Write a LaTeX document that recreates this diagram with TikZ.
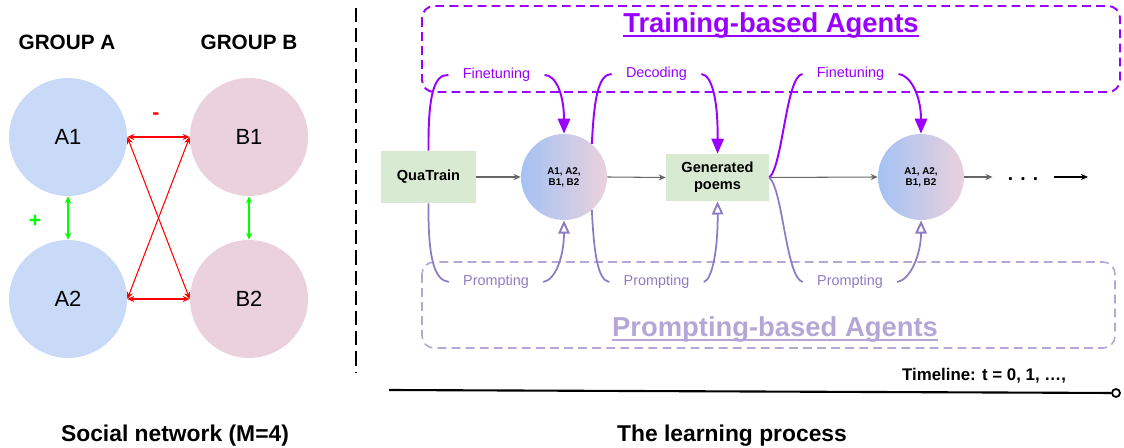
\documentclass[tikz,border=0pt]{standalone}
\usepackage{fontspec}
\setmainfont{Liberation Sans}
\usetikzlibrary{arrows.meta}

\definecolor{grpblue}{HTML}{C9DAF8}
\definecolor{grppink}{HTML}{EAD1DC}
\definecolor{agblue}{HTML}{A4C2F4}
\definecolor{agpink}{HTML}{EAD1DC}
\definecolor{datagreen}{HTML}{D9EAD3}
\definecolor{trainpurple}{HTML}{9900FF}
\definecolor{promptline}{HTML}{8E7CC3}
\definecolor{promptbox}{HTML}{B4A7D6}
\definecolor{flowgray}{HTML}{666666}
\definecolor{plusgreen}{HTML}{00FF00}

\begin{document}
\begin{tikzpicture}[x=0.02cm,y=-0.02cm,
  member/.style={circle,minimum size=2.36cm,inner sep=0pt,font=\fontsize{12.5}{14}\selectfont},
  agents/.style={circle,minimum size=1.72cm,inner sep=0pt,left color=agblue,right color=agpink,
    align=center,font=\fontsize{5.6}{6.3}\selectfont\bfseries},
  data/.style={fill=datagreen,minimum width=1.9cm,minimum height=1.04cm,align=center,
    font=\fontsize{8.3}{9.6}\selectfont\bfseries},
  heading/.style={font=\fontsize{11.8}{14}\selectfont\bfseries},
  caption/.style={font=\fontsize{13}{15}\selectfont\bfseries},
  title/.style={inner sep=0pt,font=\fontsize{15.6}{18}\selectfont\bfseries},
  ftlabel/.style={text=trainpurple,inner xsep=8pt,font=\fontsize{8.2}{10}\selectfont},
  prlabel/.style={text=promptline,inner xsep=8pt,font=\fontsize{8.2}{10}\selectfont},
  minus/.style={red,line width=0.6pt,{Stealth[length=4pt,width=3.5pt]}-{Stealth[length=4pt,width=3.5pt]}},
  plus/.style={plusgreen,line width=0.6pt,{Stealth[length=4pt,width=3.5pt]}-{Stealth[length=4pt,width=3.5pt]}},
  flow/.style={flowgray,line width=0.6pt,-{Stealth[length=4pt,width=3.5pt]}},
  ftline/.style={trainpurple,line width=1.1pt},
  prline/.style={promptline,line width=1pt},
  fthead/.style={-{Triangle[length=8.5pt,width=7pt]}},
  prhead/.style={-{Triangle[open,length=7.5pt,width=6.5pt,line width=1.1pt]}}
]
\useasboundingbox (0,0) rectangle (1124,448);

% social network
\node[heading] (ga) at (67,42) {GROUP A};
\node[heading] (gb) at (249,42) {GROUP B};
\node[member,fill=grpblue] (a1) at (68,137) {A1};
\node[member,fill=grpblue] (a2) at (68,299) {A2};
\node[member,fill=grppink] (b1) at (249,137) {B1};
\node[member,fill=grppink] (b2) at (249,299) {B2};
\draw[plus] (a1.south) -- (a2.north);
\draw[plus] (b1.south) -- (b2.north);
\draw[minus] (a1.east) -- (b1.west);
\draw[minus] (a2.east) -- (b2.west);
\draw[minus] (a1.east) -- (b2.west);
\draw[minus] (a2.east) -- (b1.west);
\node[text=plusgreen,font=\fontsize{12}{14}\selectfont\bfseries] (pl) at (35,221) {+};
\node[text=red,font=\fontsize{12}{14}\selectfont\bfseries] (mi) at (156,116) {-};
\node[caption] (social) at (175,436) {Social network (M=4)};

% divider
\coordinate (dtop) at (356,8);
\coordinate (dbot) at (356,373);
\draw[line width=1.1pt,dash pattern=on 8pt off 3.5pt] (dtop) -- (dbot);

% agent boxes
\draw[trainpurple,line width=1.1pt,dash pattern=on 5pt off 3pt,rounded corners=0.24cm] (422,6) rectangle (1120,92);
\node[title,text=trainpurple] (tr) at (771,25) {Training-based Agents};
\draw[trainpurple,line width=1.1pt] ([yshift=-2.2pt]tr.base west) -- ([yshift=-2.2pt]tr.base east);
\draw[promptbox,line width=0.9pt,dash pattern=on 5pt off 3pt,rounded corners=0.24cm] (422,262) rectangle (1115,348);
\node[title,text=promptbox] (pr) at (775,329) {Prompting-based Agents};
\draw[promptbox,line width=1.1pt] ([yshift=-2.2pt]pr.base west) -- ([yshift=-2.2pt]pr.base east);

% learning process
\node[data] (qua) at (428.5,177) {QuaTrain};
\node[agents] (c1) at (564,177) {A1, A2,\\B1, B2};
\node[data,minimum width=2.06cm,minimum height=0.94cm] (gen) at (717.5,177.5) {Generated\\poems};
\node[agents] (c2) at (921,177) {A1, A2,\\B1, B2};
\node[font=\fontsize{11}{12}\selectfont\bfseries,inner xsep=8.5pt] (dots) at (1023,179) {. . .};
\coordinate (tail) at (1088,177);
\draw[flow] (qua.east) -- (c1.west);
\draw[flow] (c1.east) -- (gen.west);
\draw[flow] (gen.east) -- (c2.west);
\draw[flow] (c2.east) -- (c2.east -| dots.west);
\draw[flow,black] (dots.east |- tail) -- (tail);

% training arrows
\node[ftlabel] (ft1) at (496.5,75) {Finetuning};
\node[ftlabel] (dec) at (656.5,74) {Decoding};
\node[ftlabel] (ft2) at (850.5,74) {Finetuning};
\draw[ftline] (qua.north) .. controls (428,95) and (434,74) .. (ft1.west);
\draw[ftline,fthead] (ft1.east) .. controls (556,75) and (564,95) .. (c1.north);
\draw[ftline] (c1.50) .. controls (594,100) and (598,74) .. (dec.west);
\draw[ftline,fthead] (dec.east) .. controls (712,75) and (718,100) .. (gen.north);
\draw[ftline] (gen.east) .. controls (783,165) and (786,76) .. (ft2.west);
\draw[ftline,fthead] (ft2.east) .. controls (910,75) and (921,95) .. (c2.north);

% prompting arrows
\node[prlabel] (pr1) at (496,282) {Prompting};
\node[prlabel] (pr2) at (656.5,282) {Prompting};
\node[prlabel] (pr3) at (850,282) {Prompting};
\draw[prline] (qua.south) .. controls (428,258) and (434,280) .. (pr1.west);
\draw[prline,prhead] (pr1.east) .. controls (556,280) and (564,255) .. (c1.south);
\draw[prline] (c1.-50) .. controls (594,255) and (598,280) .. (pr2.west);
\draw[prline,prhead] (pr2.east) .. controls (712,280) and (718,250) .. (gen.south);
\draw[prline] (gen.east) .. controls (783,190) and (786,278) .. (pr3.west);
\draw[prline,prhead] (pr3.east) .. controls (910,280) and (921,255) .. (c2.south);

% timeline
\coordinate (tstart) at (389,390);
\node[circle,draw,line width=1pt,fill=white,minimum size=0.16cm,inner sep=0pt] (tend) at (1116,393) {};
\draw[line width=1.2pt] (tstart) -- (tend);
\node[font=\fontsize{9.6}{12}\selectfont\bfseries] (tl) at (984,376) {Timeline: t = 0, 1, …,};
\node[caption] (learn) at (732,436) {The learning process};
\end{tikzpicture}
\end{document}
